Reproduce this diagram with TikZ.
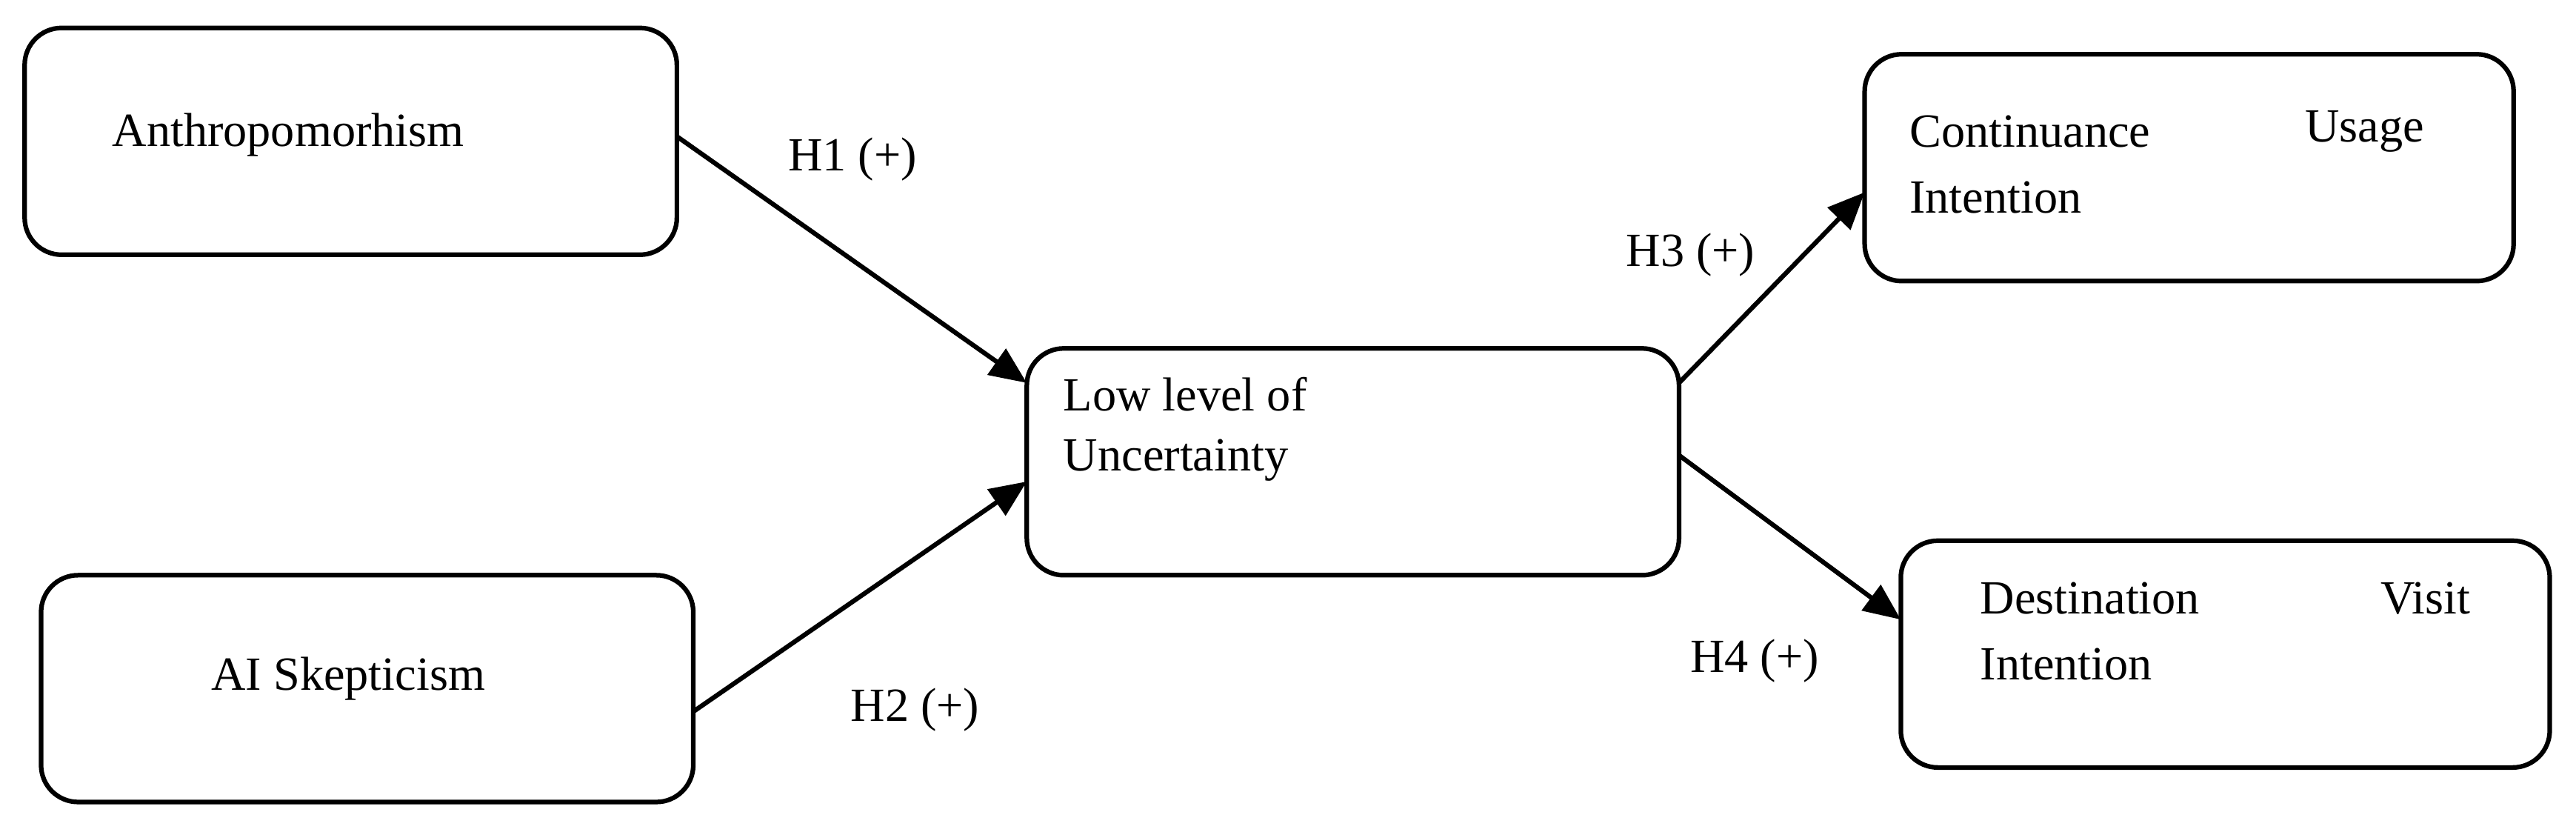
\documentclass[tikz,border=0pt]{standalone}
\usepackage{fontspec}
\setmainfont{Liberation Serif}
\usetikzlibrary{arrows.meta}
\begin{document}
\begin{tikzpicture}[x=0.02cm,y=-0.02cm,
  box/.style={draw,line width=1.6pt,rounded corners=0.45cm},
  conn/.style={line width=1.6pt,-{Triangle[length=0.45cm,width=0.38cm]}},
  txt/.style={font=\fontsize{16.5}{20}\selectfont,inner sep=0pt}]
\useasboundingbox (0,0) rectangle (1568,508);
\draw[box] (15,17) rectangle (412,155); \coordinate (A) at (412,83);
\draw[box] (25,350) rectangle (422,488); \coordinate (S) at (422,433);
\draw[box] (625,212) rectangle (1022,350);
\draw[box] (1135,33) rectangle (1530,171);
\draw[box] (1157,329) rectangle (1552,467);
\coordinate (L1) at (625,233); \coordinate (L2) at (625,293);
\coordinate (L3) at (1022,233); \coordinate (L4) at (1022,277);
\coordinate (C) at (1135,117); \coordinate (D) at (1157,377);
\draw[conn] (A) -- (L1);
\draw[conn] (S) -- (L2);
\draw[conn] (L3) -- (C);
\draw[conn] (L4) -- (D);
\node[txt,anchor=west] (ta) at (68,82) {Anthropomorhism};
\node[txt] (ts) at (212,413) {AI Skepticism};
\node[txt,anchor=west] (tl1) at (647,240) {Low level of};
\node[txt,anchor=west] (tl2) at (647,280) {Uncertainty};
\node[txt,anchor=west] (tc1) at (1162,80) {Continuance};
\node[txt,anchor=east] (tc2) at (1476,80) {Usage};
\node[txt,anchor=west] (tc3) at (1162,120) {Intention};
\node[txt,anchor=west] (td1) at (1205,364) {Destination};
\node[txt,anchor=east] (td2) at (1504,364) {Visit};
\node[txt,anchor=west] (td3) at (1205,404) {Intention};
\node[txt] (h1) at (519,97) {H1 (+)};
\node[txt] (h2) at (557,432) {H2 (+)};
\node[txt] (h3) at (1029,155) {H3 (+)};
\node[txt] (h4) at (1068,402) {H4 (+)};
\end{tikzpicture}
\end{document}
